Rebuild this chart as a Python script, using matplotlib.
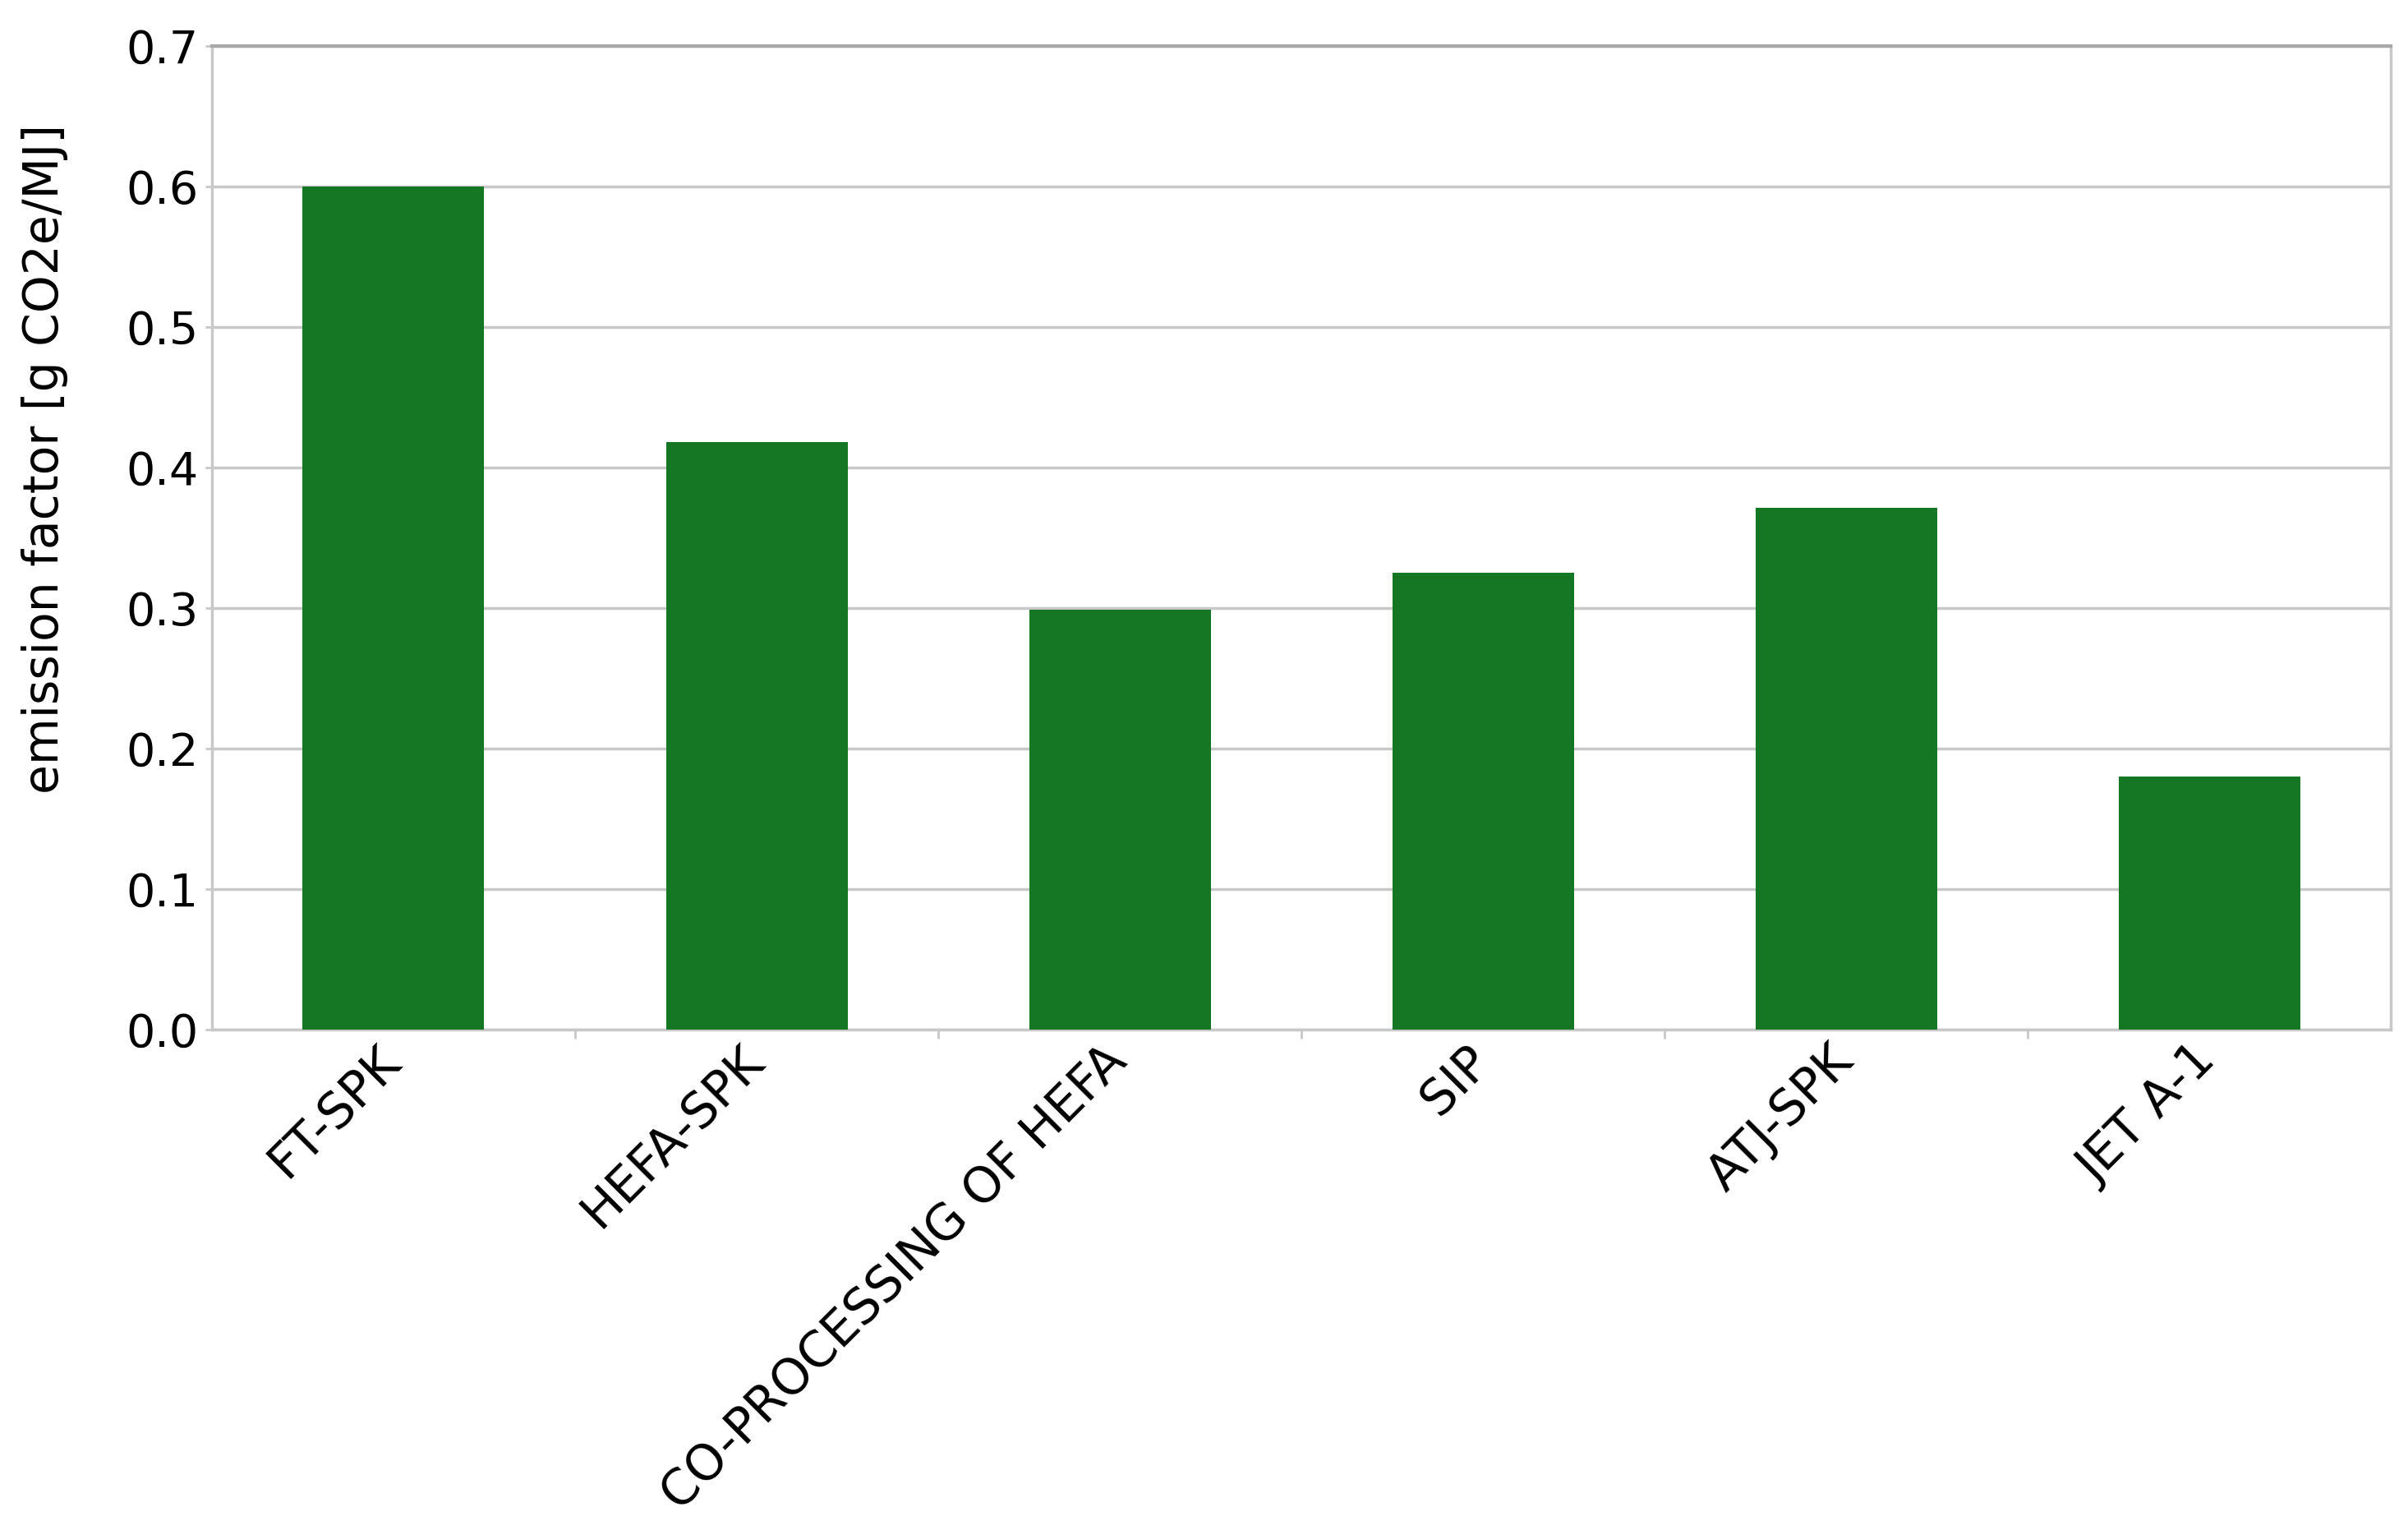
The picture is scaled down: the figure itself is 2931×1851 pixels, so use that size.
import matplotlib.pyplot as plt
import matplotlib.transforms as mtransforms
import numpy as np

# Daten
categories = ["FT-SPK", "HEFA-SPK", "CO-PROCESSING OF HEFA", "SIP", "ATJ-SPK", "JET A-1"]
emission = [0.600, 0.418, 0.299, 0.325, 0.371, 0.180]
yticks = [0.0, 0.1, 0.2, 0.3, 0.4, 0.5, 0.6, 0.7]

plt.rcParams['font.family'] = ['DejaVu Sans']

fig = plt.figure(figsize=(29.31, 18.51), dpi=100)
ax = fig.add_axes([0.088, 0.323, 0.905, 0.647])

x = np.arange(len(categories))
ax.bar(x, emission, width=0.5, color="#157724", zorder=3)

ax.set_xlim(-0.5, len(categories) - 0.5)
ax.set_ylim(0, 0.7)
ax.set_yticks(yticks)
ax.set_yticklabels([f"{v:.1f}" for v in yticks], fontsize=40)

# Kategorien-Labels auf die Mitte, kleine Striche an die Grenzen
ax.set_xticks(x)
ax.set_xticklabels(categories, fontsize=43, rotation=45, ha="right", rotation_mode="anchor")
ax.set_xticks(np.arange(0.5, len(categories) - 0.5, 1), minor=True)
ax.tick_params(axis="x", which="major", length=0, pad=22)
ax.tick_params(axis="x", which="minor", length=8, width=2, color="#c8c8c8")
ax.tick_params(axis="y", length=6, width=2, color="#c8c8c8", pad=6)

# etwas nach links oben schieben (nach tick_params, sonst wird es zurueckgesetzt)
shift = mtransforms.ScaledTranslation(-0.22, 0.22, fig.dpi_scale_trans)
for lab in ax.get_xticklabels():
    lab.set_transform(lab.get_transform() + shift)

ax.grid(axis="y", color="#c8c8c8", linewidth=2.5, zorder=0)
ax.set_axisbelow(True)
for side in ["left", "right", "bottom"]:
    ax.spines[side].set_color("#c8c8c8")
    ax.spines[side].set_linewidth(2.5)
ax.spines["top"].set_color("#a8a8a8")
ax.spines["top"].set_linewidth(3)

ax.set_ylabel("emission factor [g CO2e/MJ]", fontsize=42)
ax.yaxis.set_label_coords(-0.066, 0.58)

plt.savefig("out.png", dpi=100)
